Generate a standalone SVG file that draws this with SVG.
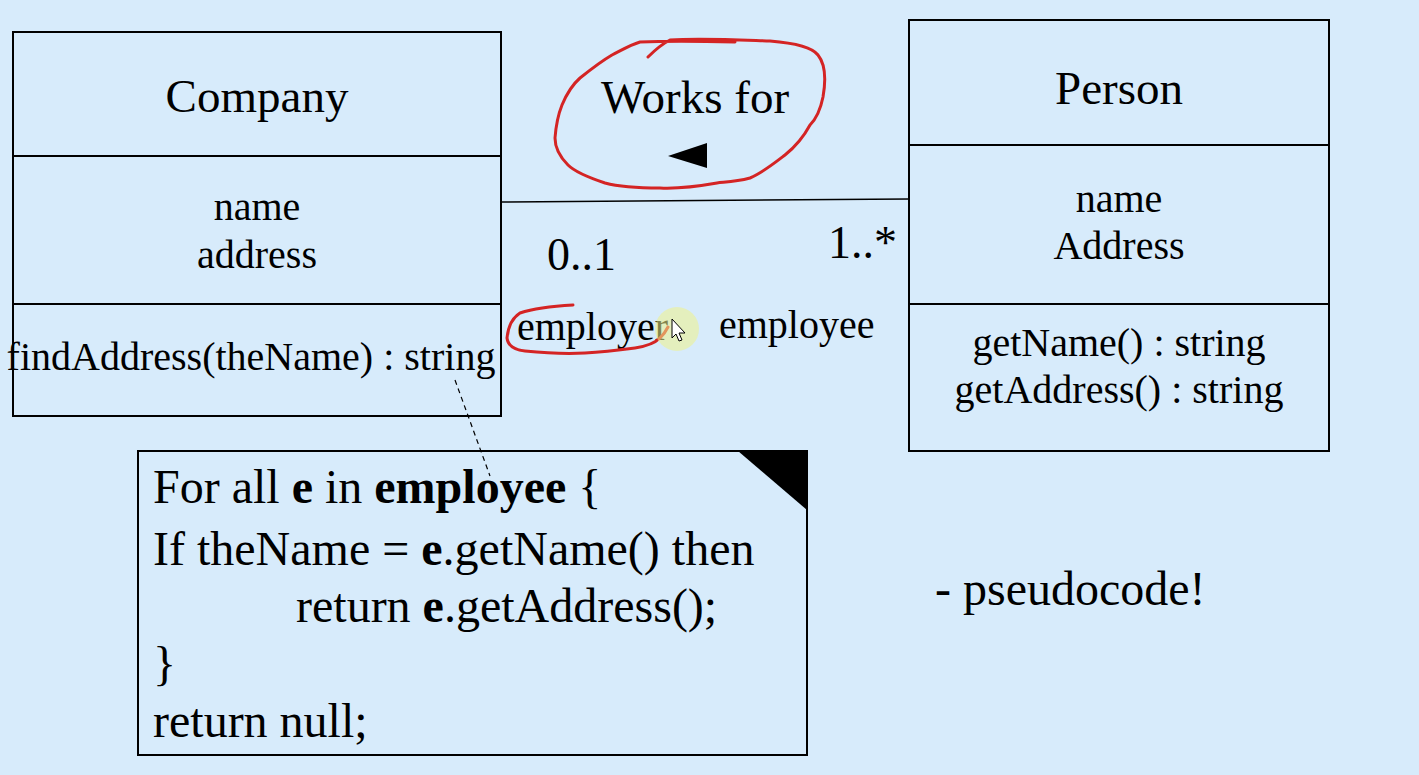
<svg xmlns="http://www.w3.org/2000/svg" width="1419" height="775" viewBox="0 0 1419 775">
<style>
.bg{fill:#d7ebfb}
.box{fill:none;stroke:#000;stroke-width:2}
.t{font-family:"Liberation Serif","Times New Roman",serif;fill:#000}
.big{font-size:47px}
.note{font-size:48px}
.mid{font-size:40px}
.c{text-anchor:middle}
.b{font-weight:bold}
.red{fill:none;stroke:#d42424;stroke-width:3;stroke-linecap:round;stroke-linejoin:round}
</style>
<rect class="bg" x="0" y="0" width="1419" height="775"/>

<g id="company">
<rect class="box" x="13" y="32" width="488" height="384"/>
<line class="box" x1="13" y1="156" x2="501" y2="156"/>
<line class="box" x1="13" y1="304" x2="501" y2="304"/>
<text class="t big c" x="257" y="112">Company</text>
<text class="t mid c" x="257" y="220">name</text>
<text class="t mid c" x="257" y="268">address</text>
<text class="t mid c" x="251" y="370">findAddress(theName) : string</text>
</g>

<g id="person">
<rect class="box" x="909" y="20" width="420" height="431"/>
<line class="box" x1="909" y1="145" x2="1329" y2="145"/>
<line class="box" x1="909" y1="304" x2="1329" y2="304"/>
<text class="t big c" x="1119" y="104">Person</text>
<text class="t mid c" x="1119" y="212">name</text>
<text class="t mid c" x="1119" y="259">Address</text>
<text class="t mid c" x="1119" y="356">getName() : string</text>
<text class="t mid c" x="1119" y="403">getAddress() : string</text>
</g>

<g id="note">
<rect class="box" x="138" y="451" width="669" height="304"/>
<polygon points="738,451 807,451 807,510" fill="#000"/>
<text class="t note" x="153" y="503">For all <tspan class="b">e</tspan> in <tspan class="b">employee</tspan> {</text>
<text class="t note" x="153" y="565">If theName = <tspan class="b">e</tspan>.getName() then</text>
<text class="t note" x="296" y="622">return <tspan class="b">e</tspan>.getAddress();</text>
<text class="t note" x="153" y="680">}</text>
<text class="t note" x="153" y="737">return null;</text>
</g>

<g id="connectors">
<line x1="501" y1="202" x2="909" y2="199" stroke="#000" stroke-width="1.5"/>
<line x1="455" y1="380" x2="490" y2="476" stroke="#000" stroke-width="1.2" stroke-dasharray="5,4"/>
</g>

<g id="assoc-labels">
<text class="t big c" x="695" y="113">Works for</text>
<polygon points="668,156 707,143 707,168" fill="#000"/>
<text class="t" font-size="46" x="547" y="270">0..1</text>
<text class="t" font-size="46" x="828" y="258">1..*</text>
<text class="t mid" x="517" y="340">employer</text>
<text class="t mid" x="719" y="338">employee</text>
<text class="t note" x="935" y="605">- pseudocode!</text>
</g>

<g id="annotations">
<path class="red" d="M648,57 C655,50 662,44 670,40 C700,38 740,40 770,41 C795,43 812,47 818,55 C826,65 826,80 823,97 C820,112 815,120 810,125 C803,138 795,147 785,155 C772,165 762,173 750,178 C735,182 725,182 717,183 C700,186 680,189 660,188 C640,188 620,187 605,183 C590,178 575,172 568,165 C560,157 555,148 555,138 C556,125 558,115 562,105 C567,93 572,85 580,78 C590,70 600,62 612,55 C622,50 630,45 640,42 C660,41 700,41 735,42"/>
<path class="red" d="M573,305 C555,306 535,308 520,313 C512,318 508,328 507,338 C508,346 515,350 525,351 C545,353 565,354 585,353 C605,352 620,350 635,348 C648,346 655,343 660,338 C664,334 666,331 668,327"/>
<circle cx="677" cy="329" r="22" fill="#eef28a" fill-opacity="0.55"/>
<path d="M672,319 L672,338 L676,334 L679,341 L682,340 L679,333 L685,333 Z" fill="#fff" stroke="#000" stroke-width="1"/>
</g>
</svg>
